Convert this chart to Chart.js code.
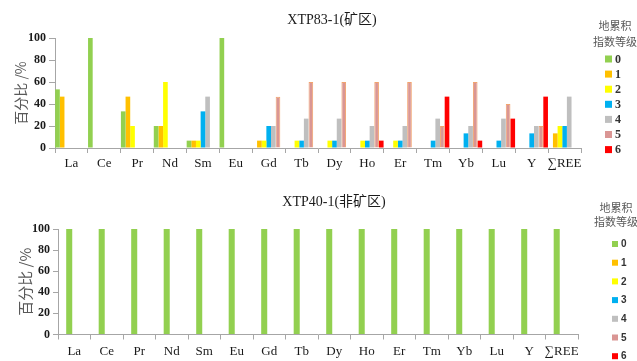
<!DOCTYPE html>
<html>
<head>
<meta charset="utf-8">
<script src="https://cdn.jsdelivr.net/npm/chart.js@4.4.1/dist/chart.umd.min.js"></script>
<style>
  html, body { margin: 0; padding: 0; background: #ffffff; }
  .panel { position: relative; width: 637px; }
  #panelOre { height: 180px; }
  #panelBg { height: 181px; }
  canvas { display: block; }
</style>
</head>
<body>
<div class="panel" id="panelOre"><canvas id="chartOre"></canvas></div>
<div class="panel" id="panelBg"><canvas id="chartBg"></canvas></div>
<script>
// REE elements on the category axis
const elements = ['La', 'Ce', 'Pr', 'Nd', 'Sm', 'Eu', 'Gd', 'Tb', 'Dy', 'Ho', 'Er', 'Tm', 'Yb', 'Lu', 'Y', '∑REE'];
// Geo-accumulation index levels and their colours
const levels = ['0', '1', '2', '3', '4', '5', '6'];
const levelColors = ['#92D050', '#FFC000', '#FFFF00', '#00B0F0', '#BFBFBF', '#DA9694', '#FF0000'];
const yTicks = [0, 20, 40, 60, 80, 100];

// XTP83-1 (mining area): share of samples (%) falling in each level
const ore0 = [53.3, 100, 33.3, 20, 6.7, 100, 0, 0, 0, 0, 0, 0, 0, 0, 0, 0];
const ore1 = [46.7, 0, 46.7, 20, 6.7, 0, 6.7, 0, 0, 0, 0, 0, 0, 0, 0, 13.3];
const ore2 = [0, 0, 20, 60, 6.7, 0, 6.7, 6.7, 6.7, 6.7, 6.7, 0, 0, 0, 0, 20];
const ore3 = [0, 0, 0, 0, 33.3, 0, 20, 6.7, 6.7, 6.7, 6.7, 6.7, 13.3, 6.7, 13.3, 20];
const ore4 = [0, 0, 0, 0, 46.7, 0, 20, 26.7, 26.7, 20, 20, 26.7, 20, 26.7, 20, 46.7];
const ore5 = [0, 0, 0, 0, 0, 0, 46.7, 60, 60, 60, 60, 20, 60, 40, 20, 0];
const ore6 = [0, 0, 0, 0, 0, 0, 0, 0, 0, 6.7, 0, 46.7, 6.7, 26.7, 46.7, 0];

// XTP40-1 (non-mining area): every sample sits in level 0
const bg0 = [100, 100, 100, 100, 100, 100, 100, 100, 100, 100, 100, 100, 100, 100, 100, 100];
const bg1 = [0, 0, 0, 0, 0, 0, 0, 0, 0, 0, 0, 0, 0, 0, 0, 0];

const AXIS_GREY = '#A6A6A6';
const SERIF = "'Liberation Serif', 'Times New Roman', 'Noto Sans CJK SC', serif";
const CJK = "'Noto Sans CJK SC', 'Liberation Serif', sans-serif";

// Sample name drawn above the plot
const panelTitle = {
  id: 'panelTitle',
  afterDraw(chart, args, o) {
    const ctx = chart.ctx;
    ctx.save();
    ctx.font = o.font;
    ctx.fillStyle = '#1a1a1a';
    ctx.textAlign = 'center';
    ctx.textBaseline = 'middle';
    ctx.fillText(o.text, o.x, o.y);
    ctx.restore();
  }
};

// Level key on the right: two-line heading and a swatch per level
const levelKey = {
  id: 'levelKey',
  afterDraw(chart, args, o) {
    const ctx = chart.ctx;
    ctx.save();
    ctx.font = o.headFont;
    ctx.fillStyle = '#595959';
    ctx.textAlign = 'center';
    ctx.textBaseline = 'middle';
    o.heading.forEach((line, i) => ctx.fillText(line, o.headX, o.headY[i]));
    ctx.textAlign = 'left';
    ctx.font = o.itemFont;
    levels.forEach((lv, i) => {
      const y = o.itemY + i * o.itemGap;
      ctx.fillStyle = levelColors[i];
      ctx.fillRect(o.boxX, y - o.box / 2, o.box, o.box);
      ctx.fillStyle = '#333333';
      ctx.fillText(lv, o.textX, y + 0.5);
    });
    ctx.restore();
  }
};

function makeChart(canvasId, series, cfg) {
  const datasets = series.map((values, i) => ({
    label: levels[i],
    data: values,
    backgroundColor: levelColors[i],
    borderColor: i === 5 ? '#F2A46E' : levelColors[i],
    borderWidth: i === 5 ? 1 : 0,
    categoryPercentage: cfg.catPct,
    barPercentage: cfg.barPct
  }));
  return new Chart(document.getElementById(canvasId), {
    type: 'bar',
    data: { labels: elements, datasets },
    plugins: [panelTitle, levelKey],
    options: {
      responsive: true,
      maintainAspectRatio: false,
      animation: false,
      layout: { padding: { top: cfg.padTop, right: cfg.padRight, left: 0, bottom: 0 } },
      plugins: {
        legend: { display: false },
        tooltip: { enabled: false },
        panelTitle: cfg.title,
        levelKey: cfg.key
      },
      scales: {
        x: {
          grid: { offset: true, drawOnChartArea: false, tickLength: 5, color: AXIS_GREY },
          border: { color: AXIS_GREY },
          ticks: {
            font: { family: SERIF, size: 13 },
            color: '#1a1a1a',
            padding: cfg.xPad,
            maxRotation: 0,
            autoSkip: false
          },
          afterFit(scale) { scale.height = cfg.xHeight; }
        },
        y: {
          min: 0,
          max: 100,
          afterBuildTicks(scale) { scale.ticks = yTicks.map(v => ({ value: v })); },
          ticks: {
            font: { family: SERIF, size: 12, weight: 'bold' },
            color: '#1a1a1a',
            padding: 3
          },
          grid: { drawOnChartArea: false, tickLength: cfg.yTickLen, color: AXIS_GREY },
          border: { color: AXIS_GREY },
          title: {
            display: true,
            text: '百分比 /%',
            font: { family: CJK, size: cfg.yTitleSize },
            color: '#595959',
            padding: { top: cfg.yTitlePad, bottom: 0 }
          },
          afterFit(scale) { scale.width = cfg.yWidth; }
        }
      }
    }
  });
}

makeChart('chartOre', [ore0, ore1, ore2, ore3, ore4, ore5, ore6], {
  catPct: 0.99, barPct: 1,
  padTop: 38, padRight: 56,
  xPad: 3, xHeight: 32,
  yWidth: 55, yTickLen: 6, yTitleSize: 14, yTitlePad: 12,
  title: { text: 'XTP83-1(矿区)', x: 332, y: 20, font: '14px ' + SERIF },
  key: {
    heading: ['地累积', '指数等级'], headX: 615, headY: [26, 42], headFont: '11px ' + CJK,
    itemY: 59, itemGap: 15.1, boxX: 605, box: 7, textX: 615,
    itemFont: 'bold 12px ' + SERIF
  }
});

makeChart('chartBg', [bg0, bg1], {
  catPct: 0.62, barPct: 0.6,
  padTop: 49, padRight: 59,
  xPad: 4, xHeight: 26.5,
  yWidth: 58, yTickLen: 5, yTitleSize: 15, yTitlePad: 16,
  title: { text: 'XTP40-1(非矿区)', x: 334, y: 22, font: '14px ' + SERIF },
  key: {
    heading: ['地累积', '指数等级'], headX: 616, headY: [28, 42], headFont: '11px ' + CJK,
    itemY: 64, itemGap: 18.7, boxX: 612, box: 6, textX: 621,
    itemFont: 'bold 10px ' + "'Liberation Sans', Arial, sans-serif"
  }
});
</script>
</body>
</html>
